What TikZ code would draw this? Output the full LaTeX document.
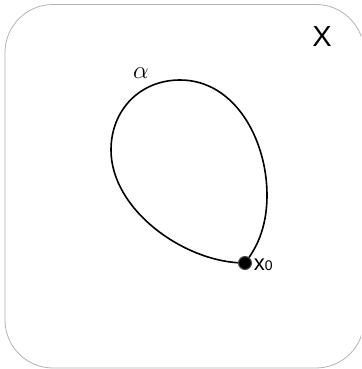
\documentclass[tikz,border=0pt]{standalone}
\usepackage{fontspec}
\setmainfont{Liberation Sans}
\begin{document}
\begin{tikzpicture}[x=1pt,y=-1pt,line width=1.6pt]
  \useasboundingbox (0,0) rectangle (361,369);
  % space X (rounded frame, cut at the right)
  \begin{scope}
    \clip (0,0) rectangle (361,369);
    \draw[line width=0.8pt,black!30,rounded corners=48pt] (5,4.5) rectangle (364,368);
  \end{scope}
  \node[font=\fontsize{29}{29}\selectfont] (X) at (322,37) {X};
  % loop alpha based at x0
  \coordinate (base) at (245,263);
  \draw (base) .. controls (185,263) and (111,210) .. (111,150)
    .. controls (111,110) and (140,80) .. (180,80)
    .. controls (235,80) and (267,140) .. (267,195)
    .. controls (267,230) and (255,250) .. (base);
  \node[font=\fontsize{37}{37}\selectfont] (alpha) at (141,73) {$\alpha$};
  % base point
  \node[circle,fill=black,draw=black!70,line width=1pt,inner sep=0pt,minimum size=13pt] (x0) at (base) {};
  \node[anchor=west,inner sep=1pt,font=\fontsize{22}{22}\selectfont] (x0lab) at (252,265) {x{\fontsize{14}{14}\selectfont 0}};
\end{tikzpicture}
\end{document}
